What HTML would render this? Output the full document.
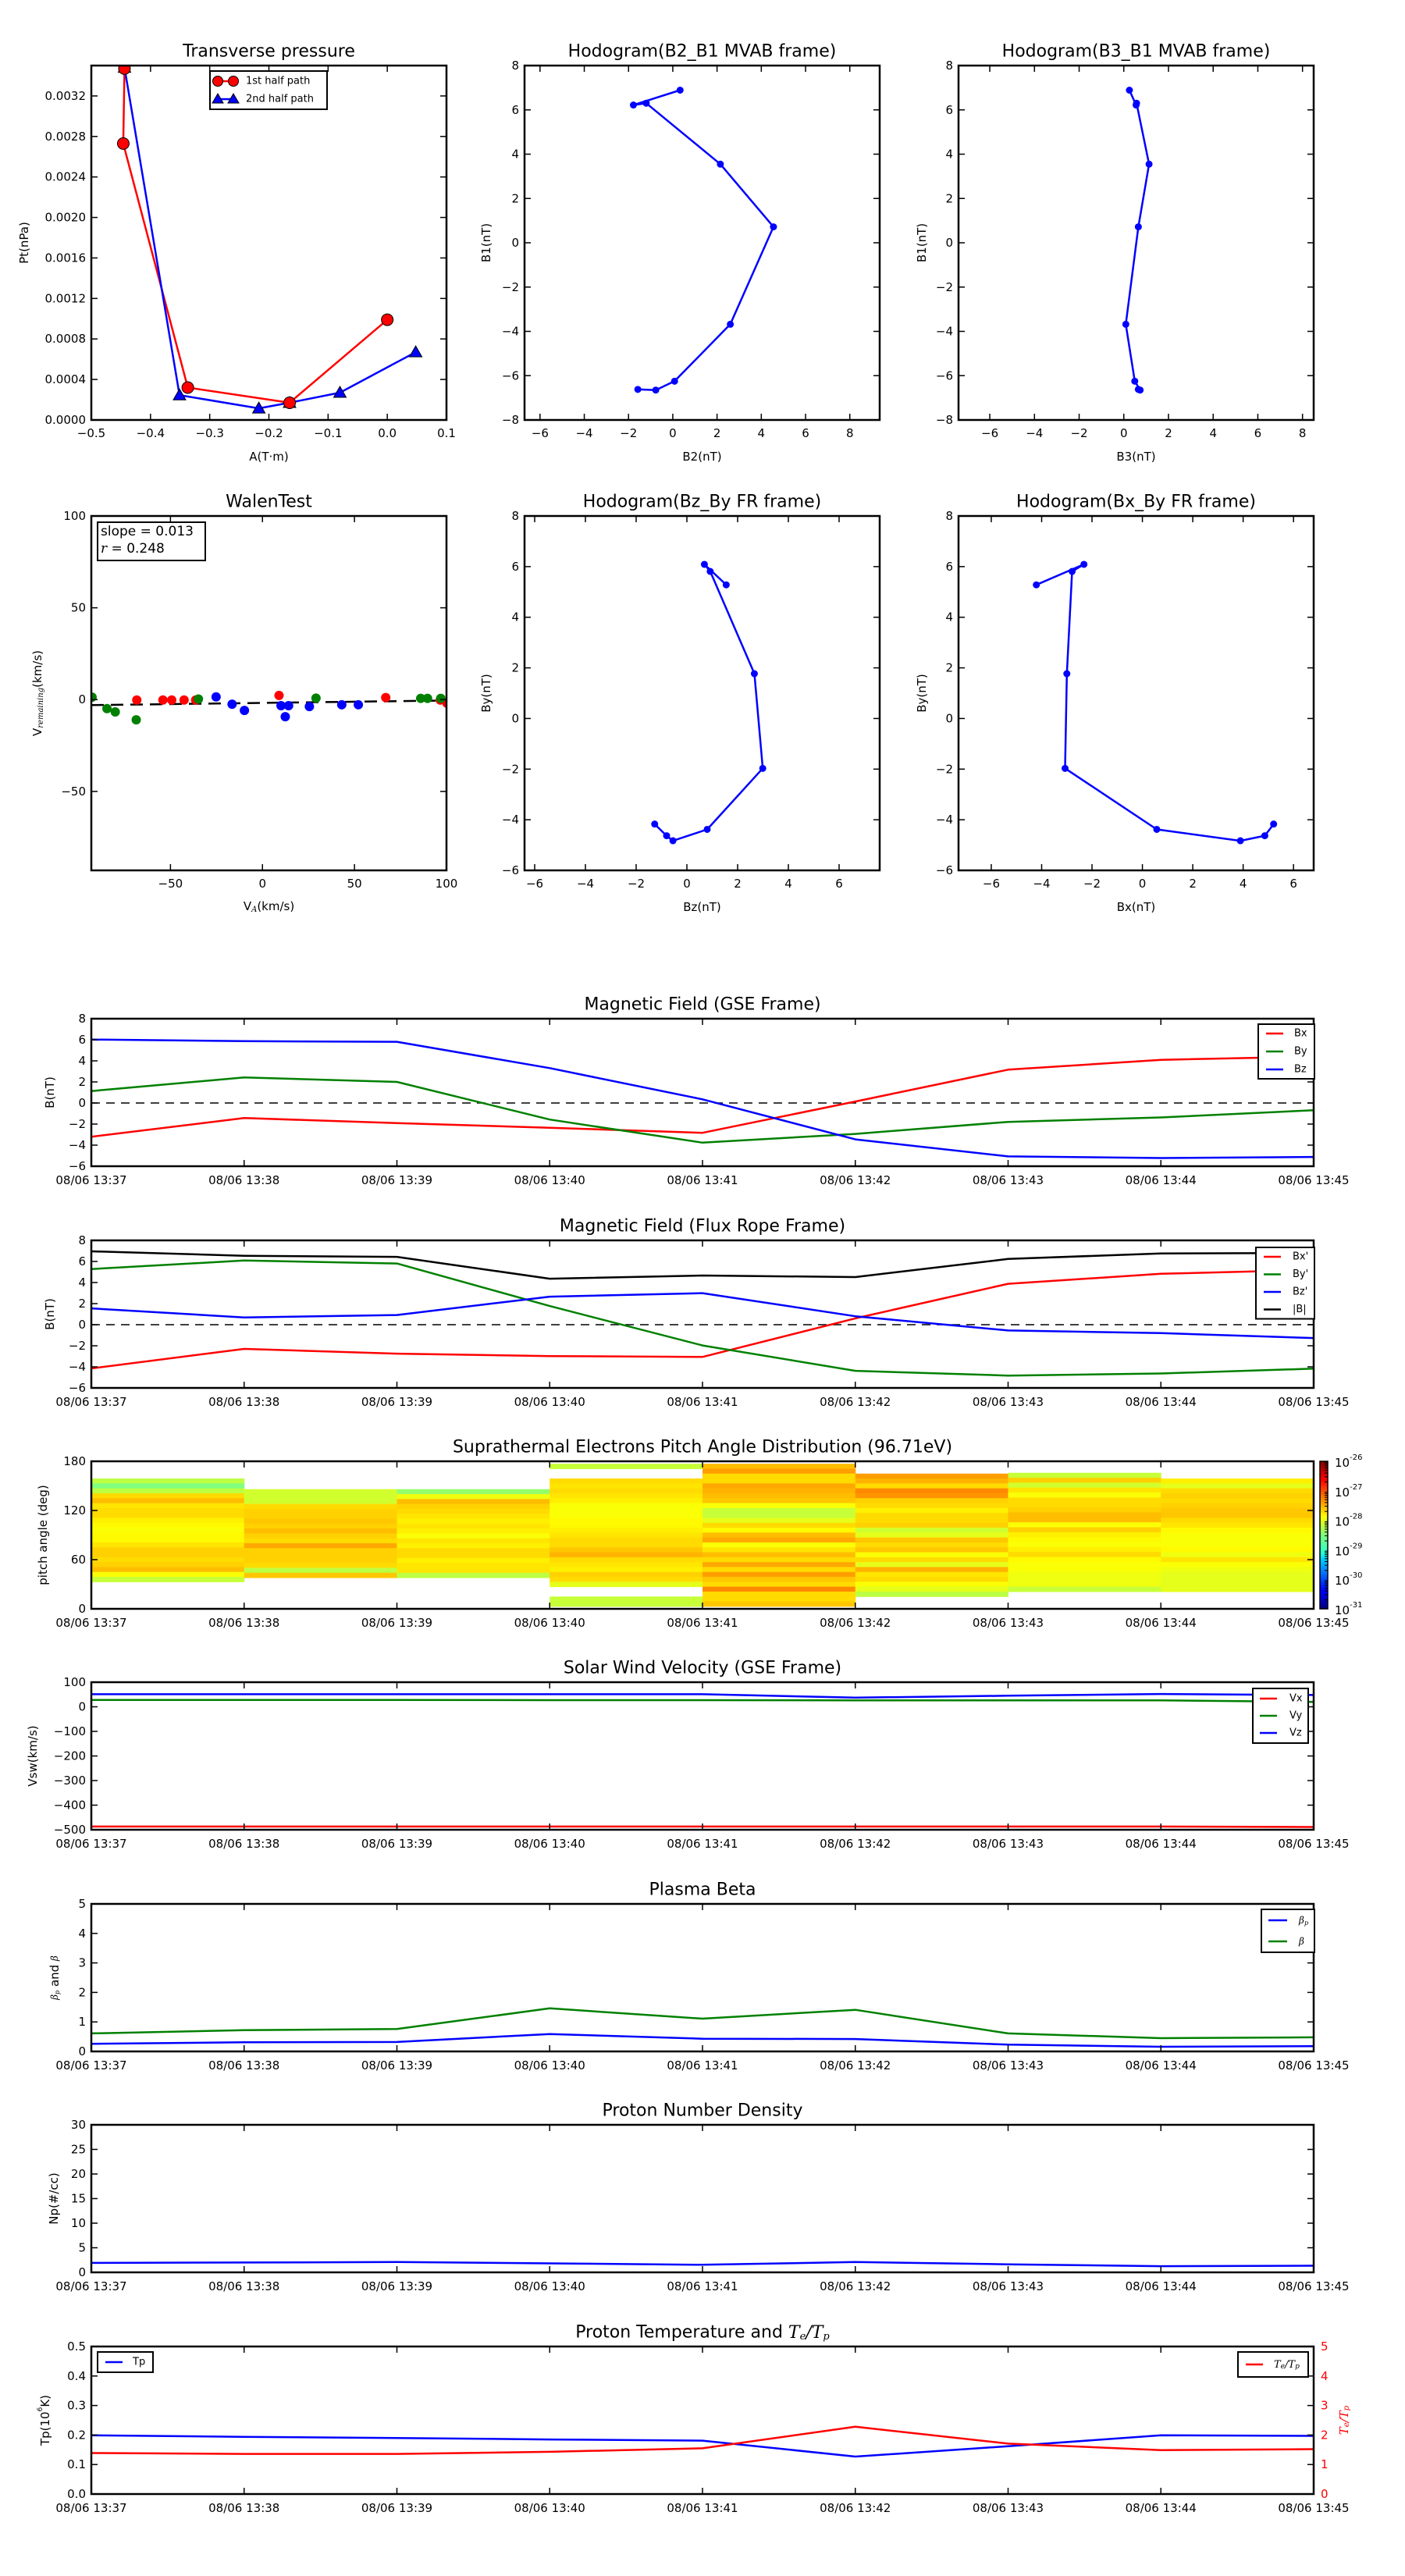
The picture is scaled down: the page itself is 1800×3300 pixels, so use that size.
<!DOCTYPE html>
<html><head><meta charset="utf-8"><title>Flux rope analysis</title>
<style>
html,body{margin:0;padding:0;background:#fff;}
svg{display:block;font-family:"DejaVu Sans","Liberation Sans",sans-serif;}
</style></head>
<body>
<svg id="fig" width="1800" height="3300" viewBox="0 0 1800 3300" xmlns="http://www.w3.org/2000/svg">
<defs id="defs">
<linearGradient id="jetgrad" x1="0" y1="1" x2="0" y2="0">
<stop offset="0" stop-color="#00007f"/><stop offset="0.11" stop-color="#0000ff"/><stop offset="0.125" stop-color="#0000ff"/>
<stop offset="0.34" stop-color="#00d4ff"/><stop offset="0.375" stop-color="#29ffce"/><stop offset="0.5" stop-color="#7dff7a"/>
<stop offset="0.625" stop-color="#ffff00"/><stop offset="0.66" stop-color="#ffd800"/><stop offset="0.875" stop-color="#ff0000"/><stop offset="1" stop-color="#7f0000"/>
</linearGradient>
</defs>
</svg>
<script>
// ---------- DATA ----------
const ptA1 = [-0.444, -0.446, -0.337, -0.165, 0.0];
const ptP1 = [0.00347, 0.00273, 0.00032, 0.00017, 0.00099];
const ptA2 = [-0.444, -0.351, -0.217, -0.165, -0.080, 0.048];
const ptP2 = [0.00348, 0.000245, 0.000115, 0.00017, 0.00027, 0.00067];

const mvB1 = [6.89, 6.22, 6.30, 3.55, 0.72, -3.68, -6.25, -6.65, -6.62];
const mvB2 = [0.33, -1.78, -1.20, 2.15, 4.55, 2.60, 0.08, -0.77, -1.58];
const mvB3 = [0.25, 0.55, 0.57, 1.13, 0.65, 0.09, 0.49, 0.73, 0.65];

const walenRedX = [-68.3, -54.1, -49.3, -42.6, -36.3, 9, 67, 96.6, 100.3];
const walenRedY = [-0.2, -0.2, -0.2, -0.2, -0.2, 2.3, 1.1, -0.2, -2];
const walenGreenX = [-92.6, -84.5, -80, -68.6, -34.8, 29.1, 86, 89.7, 96.9];
const walenGreenY = [1.3, -4.9, -6.7, -11, 0.3, 0.8, 0.7, 0.7, 0.7];
const walenBlueX = [-25.2, -16.5, -9.8, 10.1, 14.2, 12.4, 25.5, 43.1, 52.1];
const walenBlueY = [1.5, -2.5, -5.9, -3.3, -3.3, -9.3, -3.8, -2.8, -2.8];
const walenSlope = 0.013;
const walenIntercept = -1.8;

const timeLabels = ['08/06 13:37','08/06 13:38','08/06 13:39','08/06 13:40','08/06 13:41','08/06 13:42','08/06 13:43','08/06 13:44','08/06 13:45'];
const minutes = [0,1,2,3,4,5,6,7,8];

const gseBx = [-3.2, -1.43, -1.9, -2.35, -2.83, 0.14, 3.16, 4.1, 4.4];
const gseBy = [1.13, 2.43, 2.0, -1.57, -3.76, -2.93, -1.79, -1.37, -0.69];
const gseBz = [6.02, 5.87, 5.81, 3.31, 0.35, -3.45, -5.07, -5.22, -5.12];

const frBx = [-4.15, -2.3, -2.75, -2.98, -3.06, 0.6, 3.88, 4.83, 5.2];
const frBy = [5.28, 6.09, 5.81, 1.77, -1.97, -4.38, -4.83, -4.63, -4.17];
const frBz = [1.55, 0.69, 0.92, 2.66, 2.99, 0.8, -0.55, -0.8, -1.27];
const frBt = [6.96, 6.54, 6.44, 4.36, 4.67, 4.52, 6.24, 6.76, 6.8];
const hodoBx = [-4.21, -2.32, -2.79, -3.0, -3.07, 0.57, 3.89, 4.86, 5.21];

const padHi = [159, 146, 146, 177, 177, 165, 166, 159];
const padLo = [33, 38, 38, 3, 3, 15, 21, 21];
const padLevels = [
 [0.56,0.50,0.56,0.66,0.69,0.65,0.66,0.66,0.64,0.63,0.62,0.63,0.63,0.65,0.67,0.67,0.66,0.67,0.69,0.62,0.57],
 [0.58,0.58,0.58,0.66,0.67,0.67,0.68,0.67,0.69,0.67,0.66,0.71,0.67,0.67,0.67,0.66,0.56,0.68],
 [0.52,0.61,0.69,0.67,0.66,0.65,0.64,0.65,0.64,0.62,0.65,0.64,0.66,0.66,0.64,0.65,0.65,0.56],
 [0.57,null,null,0.66,0.65,0.66,0.65,0.64,0.62,0.62,0.62,0.63,0.63,0.64,0.65,0.66,0.66,0.68,0.70,0.66,0.65,0.64,0.67,0.66,0.60,null,null,0.57,0.57],
 [0.69,0.72,0.66,0.66,0.71,0.70,0.69,0.68,0.62,0.57,0.57,0.60,0.66,0.63,0.69,0.71,0.62,0.65,0.69,0.66,0.71,0.66,0.72,0.68,0.66,0.74,0.66,0.66,0.68],
 [0.72,0.70,0.66,0.74,0.73,0.67,0.66,0.64,0.66,0.66,0.67,0.58,0.60,0.68,0.66,0.68,0.62,0.66,0.60,0.70,0.65,0.66,0.62,0.60,0.56],
 [0.57,0.67,0.58,0.65,0.62,0.66,0.66,0.67,0.69,0.69,0.62,0.67,0.64,0.63,0.62,0.64,0.66,0.63,0.62,0.62,0.61,0.61,0.61,0.57],
 [0.64,0.60,0.66,0.67,0.66,0.67,0.68,0.68,0.66,0.65,0.63,0.62,0.62,0.62,0.63,0.61,0.65,0.62,0.61,0.60,0.60,0.60,0.60]
];

const swVx = [-487, -487, -487, -487, -487, -487, -487, -487, -489];
const swVy = [28, 28, 28, 27, 27, 26, 26, 26, 20];
const swVz = [51, 51, 51, 51, 51, 37, 45, 52, 48];

const betaP = [0.26, 0.31, 0.32, 0.59, 0.43, 0.42, 0.23, 0.16, 0.18];
const betaT = [0.61, 0.72, 0.76, 1.46, 1.11, 1.41, 0.61, 0.45, 0.48];

const npDens = [1.92, 2.0, 2.1, 1.83, 1.54, 2.1, 1.63, 1.25, 1.35];

const tpTemp = [0.199, 0.194, 0.19, 0.185, 0.181, 0.127, 0.162, 0.199, 0.197];
const teTp = [1.39, 1.36, 1.36, 1.43, 1.55, 2.28, 1.71, 1.49, 1.52];

// ---------- HELPERS ----------
const NS = 'http://www.w3.org/2000/svg';
const svg = document.getElementById('fig');
const defs = document.getElementById('defs');
let clipId = 0;
function el(tag, attrs, name, parent) {
  const e = document.createElementNS(NS, tag);
  for (const k in attrs) e.setAttribute(k, attrs[k]);
  
  
  (parent || svg).appendChild(e);
  return e;
}
function txt(x, y, s, opts, name, parent) {
  const t = el('text', Object.assign({x: x, y: y, 'font-size': 15, 'text-anchor': 'middle', 'dominant-baseline': 'central', fill: '#000'}, opts || {}), name, parent);
  t.textContent = s;
  return t;
}
function lin(d0, d1, r0, r1) { return v => r0 + (v - d0) / (d1 - d0) * (r1 - r0); }
function fmtNum(v, dec) { const s = Math.abs(v).toFixed(dec); return (v < -1e-12 ? '\u2212' : '') + s; }
function jet(t) {
  const c = v => Math.round(255 * Math.max(0, Math.min(1, v)));
  return 'rgb(' + c(1.5 - Math.abs(4 * t - 3)) + ',' + c(1.5 - Math.abs(4 * t - 2)) + ',' + c(1.5 - Math.abs(4 * t - 1)) + ')';
}

function makeAxes(c) {
  const g = el('g', {}, c.name);
  const sx = lin(c.xd[0], c.xd[1], c.x0, c.x0 + c.w);
  const sy = lin(c.yd[0], c.yd[1], c.y0 + c.h, c.y0);
  clipId++;
  const cp = el('clipPath', {id: 'clip' + clipId}, c.name + '-clip', defs);
  el('rect', {x: c.x0, y: c.y0, width: c.w, height: c.h}, 'clip-rect', cp);
  const data = el('g', {'clip-path': 'url(#clip' + clipId + ')'}, c.name + '-data', g);
  const fr = el('g', {}, c.name + '-frame', g);
  const tl = c.tickLen || 8;
  const xl = el('g', {}, 'x-tick-labels', fr);
  c.xticks.forEach((v, i) => {
    const x = sx(v);
    el('line', {x1: x, x2: x, y1: c.y0 + c.h, y2: c.y0 + c.h - tl, stroke: '#000', 'stroke-width': 1.5}, 'x-tick', fr);
    el('line', {x1: x, x2: x, y1: c.y0, y2: c.y0 + tl, stroke: '#000', 'stroke-width': 1.5}, 'x-tick', fr);
    txt(x, c.y0 + c.h + (c.xgap || 17), c.xfmt(v, i), {}, 'x-tick-label', xl);
  });
  const yl = el('g', {}, 'y-tick-labels', fr);
  c.yticks.forEach((v, i) => {
    const y = sy(v);
    el('line', {x1: c.x0, x2: c.x0 + tl, y1: y, y2: y, stroke: '#000', 'stroke-width': 1.5}, 'y-tick', fr);
    if (!c.noRightTicks) el('line', {x1: c.x0 + c.w, x2: c.x0 + c.w - tl, y1: y, y2: y, stroke: '#000', 'stroke-width': 1.5}, 'y-tick', fr);
    txt(c.x0 - 7, y, c.yfmt(v, i), {'text-anchor': 'end'}, 'y-tick-label', yl);
  });
  el('rect', {x: c.x0, y: c.y0, width: c.w, height: c.h, fill: 'none', stroke: '#000', 'stroke-width': 2.5}, c.name + '-border', fr);
  if (c.title) txt(c.x0 + c.w / 2, c.y0 - 18, c.title, {'font-size': 22}, c.name + '-title', g);
  if (c.xlabel) txt(c.x0 + c.w / 2, c.xlabelY || (c.y0 + c.h + 47), c.xlabel, {}, 'x-axis-title', g);
  if (c.ylabel) txt(c.ylabelX, c.y0 + c.h / 2, c.ylabel, {transform: 'rotate(-90 ' + c.ylabelX + ' ' + (c.y0 + c.h / 2) + ')'}, 'y-axis-title', g);
  return {sx: sx, sy: sy, g: g, data: data, fr: fr};
}
function polyline(ax, xs, ys, color, name, w) {
  const pts = xs.map((x, i) => ax.sx(x).toFixed(1) + ',' + ax.sy(ys[i]).toFixed(1)).join(' ');
  return el('polyline', {points: pts, fill: 'none', stroke: color, 'stroke-width': w || 2.5, 'stroke-linejoin': 'round'}, name, ax.data);
}
function dots(ax, xs, ys, color, r, name, stroke) {
  const g = el('g', {}, name, ax.data);
  xs.forEach((x, i) => {
    const c = el('circle', {cx: ax.sx(x), cy: ax.sy(ys[i]), r: r, fill: color}, name + '-point', g);
    if (stroke) c.setAttribute('stroke', stroke);
  });
  return g;
}
function tris(ax, xs, ys, color, s, name) {
  const g = el('g', {}, name, ax.data);
  xs.forEach((x, i) => {
    const cx = ax.sx(x), cy = ax.sy(ys[i]);
    el('polygon', {points: cx + ',' + (cy - s) + ' ' + (cx - s) + ',' + (cy + s * 0.75) + ' ' + (cx + s) + ',' + (cy + s * 0.75), fill: color, stroke: '#000', 'stroke-width': 1}, name + '-point', g);
  });
  return g;
}
function range(a, b, s) { const r = []; for (let v = a; v <= b + 1e-9; v += s) r.push(Math.round(v * 1e6) / 1e6); return r; }
const intFmt = v => fmtNum(v, 0);

// ---------- TOP ROW ----------
const RY0 = 84, RH = 454, R2Y0 = 661;
const C1 = 117, C2 = 672, C3 = 1228, CW = 455;

// Transverse pressure
const ax1 = makeAxes({name: 'transverse-pressure-chart', x0: C1, y0: RY0, w: CW, h: RH, xd: [-0.5, 0.1], yd: [0, 0.0035],
  xticks: range(-0.5, 0.1, 0.1), yticks: range(0, 0.0032, 0.0004), xfmt: v => fmtNum(v, 1), yfmt: v => fmtNum(v, 4),
  title: 'Transverse pressure', xlabel: 'A(T\u00b7m)', ylabel: 'Pt(nPa)', ylabelX: 31});
polyline(ax1, ptA1, ptP1, '#ff0000', 'first-half-line');
polyline(ax1, ptA2, ptP2, '#0000ff', 'second-half-line');
tris(ax1, ptA2, ptP2, '#0000ff', 8, 'second-half-markers');
dots(ax1, ptA1, ptP1, '#ff0000', 7.5, 'first-half-markers', '#000');
(function () {
  const lg = el('g', {}, 'pressure-legend', ax1.fr);
  el('rect', {x: 269, y: 91, width: 150, height: 49, fill: '#fff', stroke: '#000', 'stroke-width': 2}, 'legend-box', lg);
  el('line', {x1: 279, x2: 299, y1: 104, y2: 104, stroke: '#ff0000', 'stroke-width': 2.5}, 'legend-line', lg);
  el('circle', {cx: 279, cy: 104, r: 6.5, fill: '#ff0000', stroke: '#000'}, 'legend-marker', lg);
  el('circle', {cx: 299, cy: 104, r: 6.5, fill: '#ff0000', stroke: '#000'}, 'legend-marker', lg);
  txt(315, 104, '1st half path', {'text-anchor': 'start', 'font-size': 13}, 'legend-entry', lg);
  el('line', {x1: 279, x2: 299, y1: 127, y2: 127, stroke: '#0000ff', 'stroke-width': 2.5}, 'legend-line', lg);
  el('polygon', {points: '279,120 272,132 286,132', fill: '#0000ff', stroke: '#000'}, 'legend-marker', lg);
  el('polygon', {points: '299,120 292,132 306,132', fill: '#0000ff', stroke: '#000'}, 'legend-marker', lg);
  txt(315, 127, '2nd half path', {'text-anchor': 'start', 'font-size': 13}, 'legend-entry', lg);
})();

// Hodogram B2_B1
const ax2 = makeAxes({name: 'hodogram-b2-b1-chart', x0: C2, y0: RY0, w: CW, h: RH, xd: [-6.7, 9.35], yd: [-8, 8],
  xticks: range(-6, 8, 2), yticks: range(-8, 8, 2), xfmt: intFmt, yfmt: intFmt,
  title: 'Hodogram(B2_B1 MVAB frame)', xlabel: 'B2(nT)', ylabel: 'B1(nT)', ylabelX: 623});
polyline(ax2, mvB2, mvB1, '#0000ff', 'hodogram-b2-b1-line');
dots(ax2, mvB2, mvB1, '#0000ff', 4.5, 'hodogram-b2-b1-points');

// Hodogram B3_B1
const ax3 = makeAxes({name: 'hodogram-b3-b1-chart', x0: C3, y0: RY0, w: CW, h: RH, xd: [-7.4, 8.5], yd: [-8, 8],
  xticks: range(-6, 8, 2), yticks: range(-8, 8, 2), xfmt: intFmt, yfmt: intFmt,
  title: 'Hodogram(B3_B1 MVAB frame)', xlabel: 'B3(nT)', ylabel: 'B1(nT)', ylabelX: 1181});
polyline(ax3, mvB3, mvB1, '#0000ff', 'hodogram-b3-b1-line');
dots(ax3, mvB3, mvB1, '#0000ff', 4.5, 'hodogram-b3-b1-points');

// Walen test
const ax4 = makeAxes({name: 'walen-test-chart', x0: C1, y0: R2Y0, w: CW, h: RH, xd: [-93, 100], yd: [-93, 100],
  xticks: [-50, 0, 50, 100], yticks: [-50, 0, 50, 100], xfmt: intFmt, yfmt: intFmt, title: 'WalenTest'});
(function () {
  const fx = [-93, 100];
  const fy = fx.map(v => walenSlope * v + walenIntercept);
  const l = polyline(ax4, fx, fy, '#000', 'walen-fit-line');
  l.setAttribute('stroke-dasharray', '16 9');
})();
dots(ax4, walenRedX, walenRedY, '#ff0000', 6, 'walen-red-points');
dots(ax4, walenGreenX, walenGreenY, '#008000', 6, 'walen-green-points');
dots(ax4, walenBlueX, walenBlueY, '#0000ff', 6, 'walen-blue-points');
(function () {
  const bx = el('g', {}, 'walen-annotation', ax4.fr);
  el('rect', {x: 125, y: 669, width: 138, height: 49, fill: '#fff', stroke: '#000', 'stroke-width': 2}, 'annotation-box', bx);
  txt(129, 681, 'slope = 0.013', {'text-anchor': 'start', 'font-size': 17}, 'slope-text', bx);
  const t = txt(129, 703, '', {'text-anchor': 'start', 'font-size': 17}, 'r-text', bx);
  t.innerHTML = '<tspan font-style="italic" font-family="DejaVu Serif, serif">r</tspan> = 0.248';
  const xl = txt(C1 + CW / 2, 1161, '', {}, 'x-axis-title', ax4.g);
  xl.innerHTML = 'V<tspan font-size="10" dy="4" font-style="italic" font-family="DejaVu Serif, serif">A</tspan><tspan dy="-4">(km/s)</tspan>';
  const yl = txt(48, R2Y0 + RH / 2, '', {transform: 'rotate(-90 48 ' + (R2Y0 + RH / 2) + ')'}, 'y-axis-title', ax4.g);
  yl.innerHTML = 'V<tspan font-size="10" dy="4" font-style="italic" font-family="DejaVu Serif, serif">remaining</tspan><tspan dy="-4">(km/s)</tspan>';
})();

// Hodogram Bz_By FR
const ax5 = makeAxes({name: 'hodogram-bz-by-chart', x0: C2, y0: R2Y0, w: CW, h: RH, xd: [-6.4, 7.6], yd: [-6, 8],
  xticks: range(-6, 6, 2), yticks: range(-6, 8, 2), xfmt: intFmt, yfmt: intFmt,
  title: 'Hodogram(Bz_By FR frame)', xlabel: 'Bz(nT)', ylabel: 'By(nT)', ylabelX: 623});
polyline(ax5, frBz, frBy, '#0000ff', 'hodogram-bz-by-line');
dots(ax5, frBz, frBy, '#0000ff', 4.5, 'hodogram-bz-by-points');

// Hodogram Bx_By FR
const ax6 = makeAxes({name: 'hodogram-bx-by-chart', x0: C3, y0: R2Y0, w: CW, h: RH, xd: [-7.3, 6.8], yd: [-6, 8],
  xticks: range(-6, 6, 2), yticks: range(-6, 8, 2), xfmt: intFmt, yfmt: intFmt,
  title: 'Hodogram(Bx_By FR frame)', xlabel: 'Bx(nT)', ylabel: 'By(nT)', ylabelX: 1181});
polyline(ax6, hodoBx, frBy, '#0000ff', 'hodogram-bx-by-line');
dots(ax6, hodoBx, frBy, '#0000ff', 4.5, 'hodogram-bx-by-points');

// ---------- TIME SERIES ----------
const TX0 = 117, TW = 1566, TH = 189;
const tops = [1305, 1589, 1872, 2155, 2439, 2722, 3006];
const tfmt = (v, i) => timeLabels[i];
function timeAxes(name, top, yd, yticks, yfmt, title, ylabel, ylabelX, extra) {
  return makeAxes(Object.assign({name: name, x0: TX0, y0: top, w: TW, h: TH, xd: [0, 8], yd: yd, xticks: minutes, yticks: yticks,
    xfmt: tfmt, yfmt: yfmt, title: title, ylabel: ylabel, ylabelX: ylabelX, xgap: 18}, extra || {}));
}
function zeroLine(ax) {
  const l = el('line', {x1: TX0, x2: TX0 + TW, y1: ax.sy(0), y2: ax.sy(0), stroke: '#000', 'stroke-width': 1.5, 'stroke-dasharray': '11 8'}, 'zero-line', ax.data);
  return l;
}
function legend(ax, x, y, w, entries, rowH, firstY, lineX, textX, fs) {
  const lg = el('g', {}, 'legend', ax.fr);
  el('rect', {x: x, y: y, width: w, height: rowH * entries.length + (firstY - y) * 2 - rowH, fill: '#fff', stroke: '#000', 'stroke-width': 2}, 'legend-box', lg);
  entries.forEach((e, i) => {
    const yy = firstY + i * rowH;
    el('line', {x1: lineX[0], x2: lineX[1], y1: yy, y2: yy, stroke: e[1], 'stroke-width': 2.5}, 'legend-line', lg);
    const t = txt(textX, yy, '', {'text-anchor': 'start', 'font-size': fs || 13}, 'legend-entry', lg);
    t.innerHTML = e[0];
  });
  return lg;
}

// GSE
const axG = timeAxes('magnetic-field-gse-chart', tops[0], [-6, 8], range(-6, 8, 2), intFmt, 'Magnetic Field (GSE Frame)', 'B(nT)', 64);
zeroLine(axG);
polyline(axG, minutes, gseBx, '#ff0000', 'gse-bx-line');
polyline(axG, minutes, gseBy, '#008000', 'gse-by-line');
polyline(axG, minutes, gseBz, '#0000ff', 'gse-bz-line');
legend(axG, 1612, 1312, 72, [['Bx', '#ff0000'], ['By', '#008000'], ['Bz', '#0000ff']], 23, 1324, [1622, 1644], 1658);

// FR
const axF = timeAxes('magnetic-field-fr-chart', tops[1], [-6, 8], range(-6, 8, 2), intFmt, 'Magnetic Field (Flux Rope Frame)', 'B(nT)', 64);
zeroLine(axF);
polyline(axF, minutes, frBx, '#ff0000', 'fr-bx-line');
polyline(axF, minutes, frBy, '#008000', 'fr-by-line');
polyline(axF, minutes, frBz, '#0000ff', 'fr-bz-line');
polyline(axF, minutes, frBt, '#000000', 'fr-btotal-line');
legend(axF, 1609, 1598, 75, [["Bx'", '#ff0000'], ["By'", '#008000'], ["Bz'", '#0000ff'], ['|B|', '#000']], 22.5, 1610, [1619, 1641], 1656);

// PAD heatmap
const axP = timeAxes('pitch-angle-chart', tops[2], [0, 180], [0, 60, 120, 180], intFmt, 'Suprathermal Electrons Pitch Angle Distribution (96.71eV)', 'pitch angle (deg)', 55);
padLevels.forEach((col, ci) => {
  const g = el('g', {}, 'pad-column', axP.data);
  const n = col.length;
  const step = (padHi[ci] - padLo[ci]) / n;
  col.forEach((lv, ri) => {
    if (lv === null) return;
    const a1 = padHi[ci] - ri * step, a0 = a1 - step;
    const y1 = axP.sy(a1), y0 = axP.sy(a0);
    const x0 = axP.sx(minutes[ci]), x1 = axP.sx(minutes[ci + 1]);
    el('rect', {x: x0, y: y1, width: x1 - x0 + 0.5, height: y0 - y1 + 0.5, fill: jet(lv)}, 'heatmap-cell', g);
  });
});
(function () {
  const cb = el('g', {}, 'colorbar', svg);
  const top = tops[2], h = TH;
  el('rect', {x: 1691, y: top, width: 10, height: h, fill: 'url(#jetgrad)', stroke: '#000', 'stroke-width': 1.5}, 'colorbar-gradient', cb);
  const cbExp = [-26, -27, -28, -29, -30, -31];
  const cs = lin(-31, -26, top + h, top);
  cbExp.forEach(e => {
    const y = cs(e);
    const t = txt(1710, y + 2, '', {'text-anchor': 'start', 'font-size': 15}, 'colorbar-label', cb);
    t.innerHTML = '10<tspan font-size="10" dy="-7">' + fmtNum(e, 0).replace('\u2212', '-') + '</tspan>';
    for (let k = 2; k < 10 && e > -31; k++) {
      const ym = cs(e - 1 + Math.log10(k));
      el('line', {x1: 1697, x2: 1701, y1: ym, y2: ym, stroke: '#000', 'stroke-width': 1}, 'colorbar-minor-tick', cb);
    }
  });
})();

// Solar wind
const axS = timeAxes('solar-wind-velocity-chart', tops[3], [-500, 100], range(-500, 100, 100), intFmt, 'Solar Wind Velocity (GSE Frame)', 'Vsw(km/s)', 42);
polyline(axS, minutes, swVx, '#ff0000', 'sw-vx-line');
polyline(axS, minutes, swVy, '#008000', 'sw-vy-line');
polyline(axS, minutes, swVz, '#0000ff', 'sw-vz-line');
legend(axS, 1605, 2163, 71, [['Vx', '#ff0000'], ['Vy', '#008000'], ['Vz', '#0000ff']], 22, 2176, [1614, 1636], 1652);

// Plasma beta
const axB = timeAxes('plasma-beta-chart', tops[4], [0, 5], range(0, 5, 1), intFmt, 'Plasma Beta', '', 74);
polyline(axB, minutes, betaP, '#0000ff', 'beta-proton-line');
polyline(axB, minutes, betaT, '#008000', 'beta-total-line');
legend(axB, 1616, 2446, 68, [['<tspan font-style="italic" font-family="DejaVu Serif, serif">\u03b2<tspan font-size="8" dy="3">p</tspan></tspan>', '#0000ff'], ['<tspan font-style="italic" font-family="DejaVu Serif, serif">\u03b2</tspan>', '#008000']], 27, 2460, [1625, 1649], 1664, 12);
(function () {
  const cy = tops[4] + TH / 2;
  const t = txt(70, cy, '', {transform: 'rotate(-90 70 ' + cy + ')', 'font-size': 15}, 'y-axis-title', axB.g);
  t.innerHTML = '<tspan font-style="italic" font-family="DejaVu Serif, serif" font-size="12">\u03b2<tspan font-size="8" dy="3">p</tspan></tspan><tspan dy="-3"> and </tspan><tspan font-style="italic" font-family="DejaVu Serif, serif" font-size="12">\u03b2</tspan>';
})();

// Proton density
const axN = timeAxes('proton-density-chart', tops[5], [0, 30], range(0, 30, 5), intFmt, 'Proton Number Density', 'Np(#/cc)', 69);
polyline(axN, minutes, npDens, '#0000ff', 'proton-density-line');

// Proton temperature
const axT = timeAxes('proton-temperature-chart', tops[6], [0, 0.5], range(0, 0.5, 0.1), v => fmtNum(v, 1), '', '', 60, {noRightTicks: true});
(function () {
  const t = txt(TX0 + TW / 2, tops[6] - 18, '', {'font-size': 22}, 'proton-temperature-title', axT.g);
  t.innerHTML = 'Proton Temperature and <tspan font-style="italic" font-family="DejaVu Serif, serif">T<tspan font-size="13" dy="5">e</tspan><tspan dy="-5">/T</tspan><tspan font-size="13" dy="5">p</tspan></tspan>';
  const cy = tops[6] + TH / 2;
  const yl = txt(58, cy, '', {transform: 'rotate(-90 58 ' + cy + ')'}, 'y-axis-title', axT.g);
  yl.innerHTML = 'Tp(10<tspan font-size="9" dy="-6">6</tspan><tspan dy="6">K)</tspan>';
})();
const axT2 = {sx: axT.sx, sy: lin(0, 5, tops[6] + TH, tops[6]), data: axT.data};
const teTicks = [0, 1, 2, 3, 4, 5];
(function () {
  const rg = el('g', {}, 'right-axis', axT.fr);
  teTicks.forEach(v => {
    const y = axT2.sy(v);
    el('line', {x1: TX0 + TW, x2: TX0 + TW - 8, y1: y, y2: y, stroke: '#000', 'stroke-width': 1.5}, 'right-y-tick', rg);
    txt(1692, y, String(v), {'text-anchor': 'start', fill: '#ff0000'}, 'right-y-tick-label', rg);
  });
  const cy = tops[6] + TH / 2;
  const t = txt(1722, cy, '', {transform: 'rotate(-90 1722 ' + cy + ')', fill: '#ff0000', 'font-style': 'italic', 'font-family': 'DejaVu Serif, serif', 'font-size': 15}, 'right-axis-title', rg);
  t.innerHTML = 'T<tspan font-size="10" dy="3">e</tspan><tspan dy="-3">/T</tspan><tspan font-size="10" dy="3">p</tspan>';
})();
polyline(axT, minutes, tpTemp, '#0000ff', 'proton-temperature-line');
polyline(axT2, minutes, teTp, '#ff0000', 'te-tp-ratio-line');
legend(axT, 125, 3013, 71, [['Tp', '#0000ff']], 26, 3026, [135, 157], 170);
legend(axT, 1586, 3013, 90, [['<tspan font-style="italic" font-family="DejaVu Serif, serif">T<tspan font-size="9" dy="3">e</tspan><tspan dy="-3">/T</tspan><tspan font-size="9" dy="3">p</tspan></tspan>', '#ff0000']], 32, 3029, [1596, 1618], 1632);
</script>
</body></html>
